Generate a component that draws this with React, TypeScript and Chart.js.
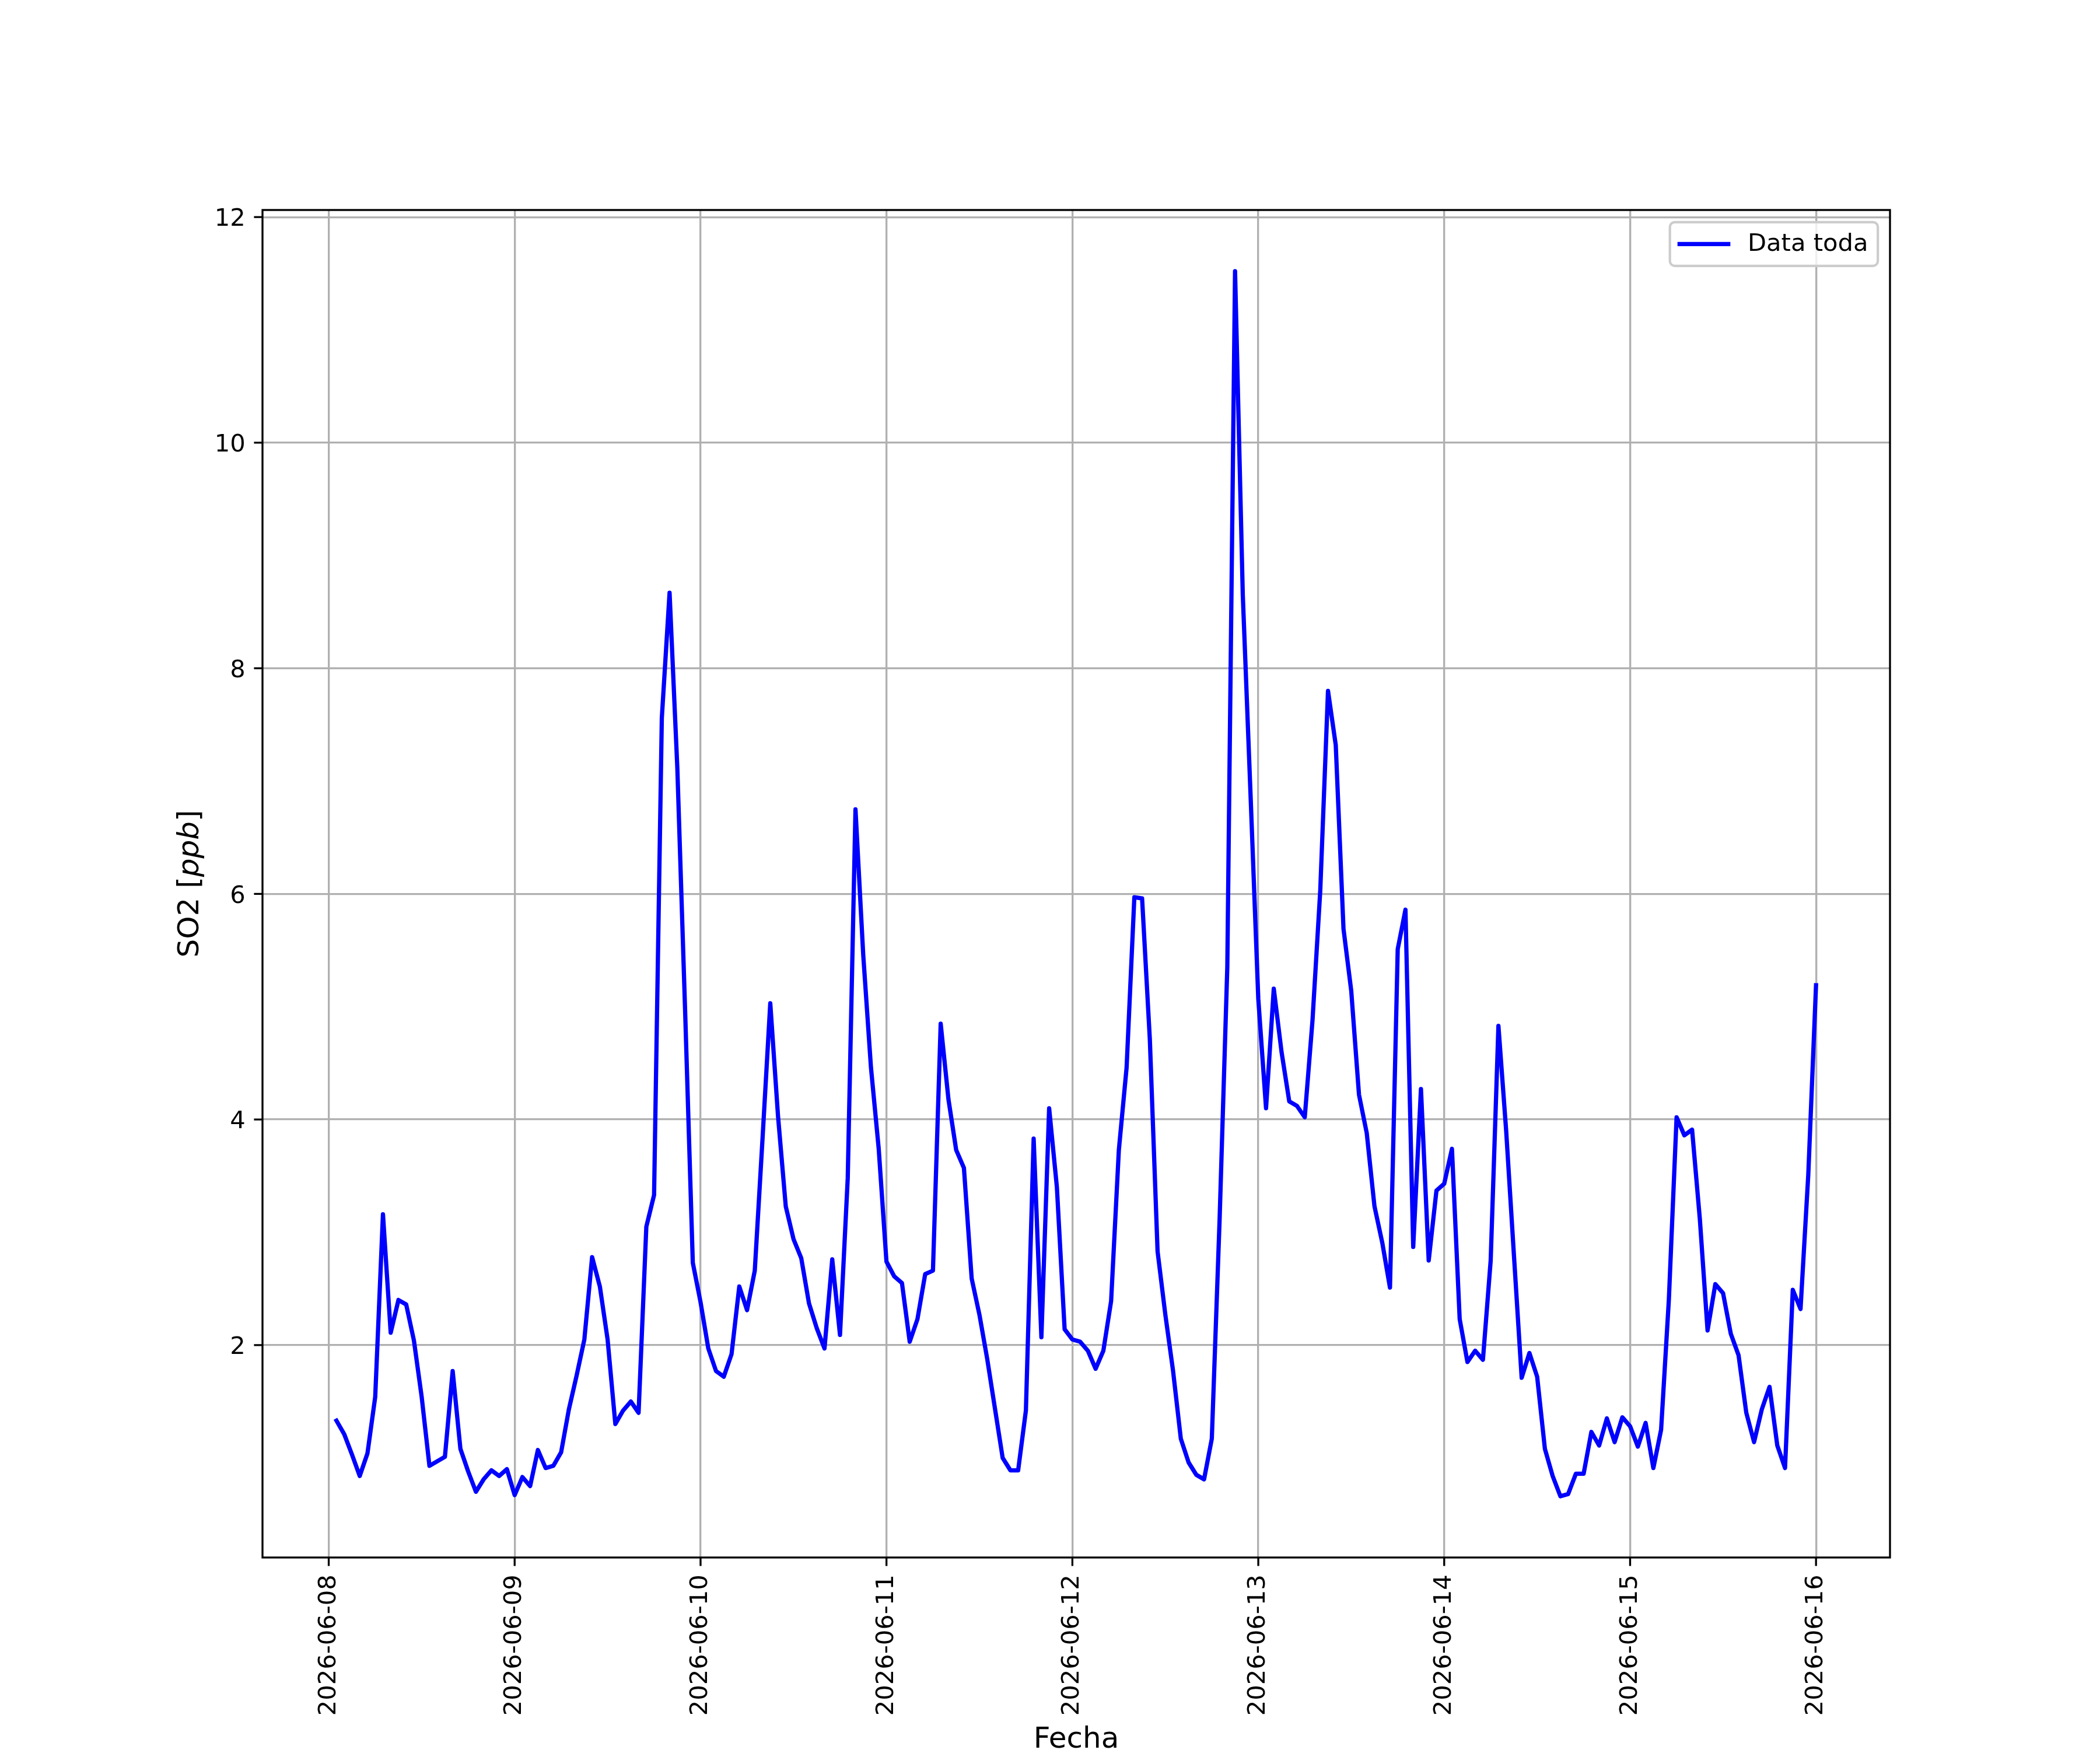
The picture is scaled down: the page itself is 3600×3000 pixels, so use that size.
import React, { useEffect, useRef } from 'react';
import { Chart, registerables } from 'chart.js';

Chart.register(...registerables);

// ---- data ----
// hourly readings, first reading at 2026-06-08 01:00 (hour 1 after 2026-06-08 00:00)
const FIRST_HOUR = 1;
const so2: number[] = [
  1.33, 1.21, 1.03, 0.84, 1.04, 1.54, 3.16, 2.11, 2.40, 2.36, 2.04, 1.54,
  0.93, 0.97, 1.01, 1.77, 1.08, 0.88, 0.70, 0.81, 0.89, 0.84, 0.90, 0.67,
  0.83, 0.75, 1.07, 0.91, 0.93, 1.05, 1.43, 1.73, 2.05, 2.78, 2.52, 2.05,
  1.30, 1.42, 1.50, 1.40, 3.05, 3.33, 7.56, 8.67, 7.12, 4.98, 2.73, 2.38,
  1.97, 1.77, 1.72, 1.92, 2.52, 2.31, 2.66, 3.83, 5.03, 4.03, 3.23, 2.94,
  2.77, 2.37, 2.15, 1.97, 2.76, 2.09, 3.48, 6.75, 5.46, 4.46, 3.74, 2.74,
  2.61, 2.55, 2.03, 2.23, 2.63, 2.66, 4.85, 4.18, 3.73, 3.57, 2.59, 2.27,
  1.88, 1.44, 1.00, 0.89, 0.89, 1.42, 3.83, 2.07, 4.10, 3.40, 2.14, 2.05,
  2.03, 1.95, 1.79, 1.95, 2.39, 3.73, 4.46, 5.97, 5.96, 4.71, 2.83, 2.27,
  1.77, 1.17, 0.96, 0.85, 0.81, 1.17, 3.10, 5.35, 11.52, 8.65, 6.88, 5.07,
  4.10, 5.16, 4.60, 4.16, 4.12, 4.02, 4.88, 6.03, 7.80, 7.32, 5.69, 5.14,
  4.22, 3.88, 3.23, 2.91, 2.51, 5.51, 5.86, 2.87, 4.27, 2.75, 3.37, 3.43,
  3.74, 2.23, 1.85, 1.95, 1.87, 2.75, 4.83, 3.90, 2.80, 1.71, 1.93, 1.72,
  1.08, 0.84, 0.66, 0.68, 0.86, 0.86, 1.23, 1.11, 1.35, 1.14, 1.36, 1.28,
  1.10, 1.31, 0.91, 1.25, 2.40, 4.02, 3.86, 3.91, 3.12, 2.13, 2.54, 2.46,
  2.10, 1.91, 1.40, 1.14, 1.43, 1.63, 1.11, 0.91, 2.49, 2.32, 3.51, 5.19,
];
const tickHours = [0, 24, 48, 72, 96, 120, 144, 168, 192];
const tickLabels = [
  '2026-06-08', '2026-06-09', '2026-06-10', '2026-06-11', '2026-06-12',
  '2026-06-13', '2026-06-14', '2026-06-15', '2026-06-16',
];
const yTicks = [2, 4, 6, 8, 10, 12];
const SERIES_LABEL = 'Data toda';
const X_TITLE = 'Fecha';
const Y_TITLE_PARTS: [string, boolean][] = [['SO2 [', false], ['ppb', true], [']', false]];

// ---- style ----
const W = 3600;
const H = 3000;
const PT = 300 / 72;
const FS = 10 * PT;
const TFS = 12 * PT;
const FAMILY = '"DejaVu Sans"';
const FONT = `${FS}px ${FAMILY}`;
const TFONT = `${TFS}px ${FAMILY}`;
const TICK_LEN = 3.5 * PT;
const TICK_PAD = 3.5 * PT;
const LABEL_PAD = 4 * PT;
const LINE_W = 1.75 * PT;

const hours = so2.map((_, i) => FIRST_HOUR + i);

function margins(vals: number[]) {
  const lo = Math.min(...vals);
  const hi = Math.max(...vals);
  const m = (hi - lo) * 0.05;
  return [lo - m, hi + m];
}

const decor = {
  id: 'mplDecor',
  afterDatasetsDraw(chart: any) {
    const { ctx, chartArea: a, scales } = chart;
    const xs = scales.x;
    const ys = scales.y;
    ctx.save();
    // spines
    ctx.strokeStyle = '#000';
    ctx.lineWidth = 0.8 * PT;
    ctx.strokeRect(a.left, a.top, a.right - a.left, a.bottom - a.top);
    // tick marks
    ctx.beginPath();
    tickHours.forEach((h) => {
      const px = xs.getPixelForValue(h);
      ctx.moveTo(px, a.bottom);
      ctx.lineTo(px, a.bottom + TICK_LEN);
    });
    yTicks.forEach((v) => {
      const py = ys.getPixelForValue(v);
      ctx.moveTo(a.left, py);
      ctx.lineTo(a.left - TICK_LEN, py);
    });
    ctx.stroke();
    ctx.fillStyle = '#000';
    ctx.font = FONT;
    // y tick labels
    ctx.textAlign = 'right';
    ctx.textBaseline = 'alphabetic';
    let maxYW = 0;
    yTicks.forEach((v) => {
      const py = ys.getPixelForValue(v);
      ctx.fillText(String(v), a.left - TICK_LEN - TICK_PAD, py + 0.364 * FS);
      maxYW = Math.max(maxYW, ctx.measureText(String(v)).width);
    });
    // x tick labels (rotated)
    let maxXW = 0;
    tickHours.forEach((h, i) => {
      const px = xs.getPixelForValue(h);
      ctx.save();
      ctx.translate(px + 0.265 * FS, a.bottom + TICK_LEN + TICK_PAD);
      ctx.rotate(-Math.PI / 2);
      ctx.textAlign = 'right';
      ctx.textBaseline = 'alphabetic';
      ctx.fillText(tickLabels[i], 0, 0);
      maxXW = Math.max(maxXW, ctx.measureText(tickLabels[i]).width);
      ctx.restore();
    });
    // x title
    ctx.font = TFONT;
    ctx.textAlign = 'center';
    const xTitleY = a.bottom + TICK_LEN + TICK_PAD + maxXW + LABEL_PAD + 0.76 * TFS;
    ctx.fillText(X_TITLE, (a.left + a.right) / 2, xTitleY);
    // y title (mixed normal / italic)
    const widths = Y_TITLE_PARTS.map(([t, it]) => {
      ctx.font = it ? `italic ${TFONT}` : TFONT;
      return ctx.measureText(t).width;
    });
    const total = widths.reduce((s, w) => s + w, 0);
    const baseX = a.left - TICK_LEN - TICK_PAD - maxYW - LABEL_PAD - 0.22 * TFS;
    ctx.save();
    ctx.translate(baseX, (a.top + a.bottom) / 2);
    ctx.rotate(-Math.PI / 2);
    ctx.textAlign = 'left';
    let cx = -total / 2;
    Y_TITLE_PARTS.forEach(([t, it], i) => {
      ctx.font = it ? `italic ${TFONT}` : TFONT;
      ctx.fillText(t, cx, 0);
      cx += widths[i];
    });
    ctx.restore();
    ctx.restore();
  },
  afterDraw(chart: any) {
    const { ctx, chartArea: a } = chart;
    const bp = 0.4 * FS;
    const hl = 2.0 * FS;
    const htp = 0.8 * FS;
    const bap = 0.5 * FS;
    ctx.save();
    ctx.font = FONT;
    const tw = ctx.measureText(SERIES_LABEL).width;
    const w = bp + hl + htp + tw + bp;
    const h = 2 * bp + 1.0 * FS;
    const right = a.right - bap;
    const left = right - w;
    const top = a.top + bap;
    const r = 0.2 * FS;
    ctx.beginPath();
    ctx.moveTo(left + r, top);
    ctx.lineTo(right - r, top);
    ctx.arcTo(right, top, right, top + r, r);
    ctx.lineTo(right, top + h - r);
    ctx.arcTo(right, top + h, right - r, top + h, r);
    ctx.lineTo(left + r, top + h);
    ctx.arcTo(left, top + h, left, top + h - r, r);
    ctx.lineTo(left, top + r);
    ctx.arcTo(left, top, left + r, top, r);
    ctx.closePath();
    ctx.fillStyle = 'rgba(255,255,255,0.8)';
    ctx.fill();
    ctx.strokeStyle = '#cccccc';
    ctx.lineWidth = 1.0 * PT;
    ctx.stroke();
    // handle
    const ly = top + h / 2;
    ctx.beginPath();
    ctx.moveTo(left + bp, ly);
    ctx.lineTo(left + bp + hl, ly);
    ctx.strokeStyle = '#0000ff';
    ctx.lineWidth = LINE_W;
    ctx.lineCap = 'square';
    ctx.stroke();
    ctx.fillStyle = '#000';
    ctx.textAlign = 'left';
    ctx.textBaseline = 'alphabetic';
    ctx.fillText(SERIES_LABEL, left + bp + hl + htp, top + bp + 0.78 * FS);
    ctx.restore();
  },
};

export default function App() {
  const ref = useRef<HTMLCanvasElement | null>(null);
  useEffect(() => {
    document.body.style.margin = '0';
    const canvas = ref.current;
    if (!canvas) return;
    const [xMin, xMax] = margins(hours);
    const [yMin, yMax] = margins(so2);
    const chart = new Chart(canvas, {
      type: 'line',
      data: {
        datasets: [
          {
            label: SERIES_LABEL,
            data: hours.map((hh, i) => ({ x: hh, y: so2[i] })),
            borderColor: '#0000ff',
            backgroundColor: '#0000ff',
            borderWidth: LINE_W,
            pointRadius: 0,
            pointHoverRadius: 0,
            tension: 0,
            fill: false,
            borderJoinStyle: 'round',
            borderCapStyle: 'square',
          },
        ],
      },
      plugins: [decor],
      options: {
        animation: false,
        responsive: false,
        devicePixelRatio: 1,
        events: [],
        layout: { padding: { left: 0, right: W - 3240, top: 360, bottom: 0 } },
        plugins: {
          legend: { display: false },
          tooltip: { enabled: false },
          title: { display: false },
        },
        scales: {
          x: {
            type: 'linear',
            min: xMin,
            max: xMax,
            afterBuildTicks: (s: any) => {
              s.ticks = tickHours.map((v) => ({ value: v }));
            },
            afterFit: (s: any) => {
              s.height = H - 2670;
            },
            ticks: { display: false },
            grid: { color: '#b0b0b0', lineWidth: 0.8 * PT, drawTicks: false },
            border: { display: false },
          },
          y: {
            type: 'linear',
            min: yMin,
            max: yMax,
            afterBuildTicks: (s: any) => {
              s.ticks = yTicks.map((v) => ({ value: v }));
            },
            afterFit: (s: any) => {
              s.width = 450;
            },
            ticks: { display: false },
            grid: { color: '#b0b0b0', lineWidth: 0.8 * PT, drawTicks: false },
            border: { display: false },
          },
        },
      } as any,
    });
    return () => chart.destroy();
  }, []);
  return (
    <div style={{ position: 'absolute', left: 0, top: 0, width: W, height: H, background: '#fff' }}>
      <canvas ref={ref} width={W} height={H} style={{ width: W, height: H, display: 'block' }} />
    </div>
  );
}
